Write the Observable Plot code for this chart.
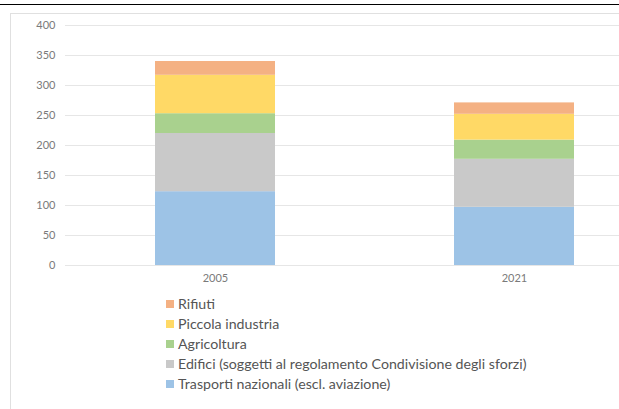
<!DOCTYPE html>
<html>
<head>
<meta charset="utf-8">
<script src="https://cdn.jsdelivr.net/npm/d3@7"></script>
<script src="https://cdn.jsdelivr.net/npm/@observablehq/plot@0.6"></script>
<style>
  html, body { margin: 0; padding: 0; background: #fff; }
  #wrap { position: relative; width: 619px; height: 409px; overflow: hidden; font-family: Lato, "Open Sans", sans-serif; }
  #topline { position: absolute; left: 0; top: 4px; width: 619px; height: 1px; background: #000; }
  #box { position: absolute; left: 10px; top: 13px; width: 700px; height: 500px; border: 1px solid #e0e0e0; box-sizing: border-box; }
  #chart { position: absolute; left: 0; top: 0; }
  #legend { position: absolute; left: 166px; top: 294px; font-size: 14.2px; color: #555; line-height: 20px; }
  .row { display: flex; align-items: center; height: 20px; white-space: nowrap; }
  .sw { width: 8px; height: 8px; margin-right: 4px; flex: none; }
</style>
</head>
<body>
<div id="wrap">
  <div id="topline"></div>
  <div id="box"></div>
  <div id="chart"></div>
  <div id="legend"></div>
</div>
<script>
const years = ["2005", "2021"];
const categories = [
  "Trasporti nazionali (escl. aviazione)",
  "Edifici (soggetti al regolamento Condivisione degli sforzi)",
  "Agricoltura",
  "Piccola industria",
  "Rifiuti"
];
const trasporti = [123, 97];
const edifici = [97, 80];
const agricoltura = [33, 32];
const piccolaIndustria = [64, 43];
const rifiuti = [23, 19];
const colors = ["#9DC3E6", "#C9C9C9", "#A9D18E", "#FFD966", "#F4B183"];
const yTicks = [0, 50, 100, 150, 200, 250, 300, 350, 400];

const series = [trasporti, edifici, agricoltura, piccolaIndustria, rifiuti];
const data = [];
categories.forEach((c, ci) => {
  years.forEach((y, yi) => data.push({year: y, category: c, value: series[ci][yi]}));
});

const chart = Plot.plot({
  width: 619,
  height: 290,
  marginLeft: 65,
  marginRight: 0,
  marginTop: 25,
  marginBottom: 25,
  style: {background: "transparent", fontFamily: "Lato, 'Open Sans', sans-serif", fontSize: "11px", color: "#7a7a7a"},
  x: {domain: years, paddingInner: 0.6, paddingOuter: 0.226, align: 0.665, label: null, tickSize: 0, tickPadding: 9},
  y: {domain: [0, 400], ticks: yTicks, label: null, tickSize: 0, tickPadding: 10},
  color: {domain: categories, range: colors},
  marks: [
    Plot.gridY(yTicks, {stroke: "#e6e6e6", strokeOpacity: 1, strokeWidth: 1}),
    Plot.barY(data, {x: "year", y: "value", fill: "category", order: null}),
    Plot.axisY(yTicks, {tickSize: 0, tickPadding: 10, label: null, fill: "#7a7a7a"}),
    Plot.axisX(years, {tickSize: 0, tickPadding: 9, label: null, fill: "#7a7a7a"})
  ]
});
document.getElementById("chart").appendChild(chart);

const legend = document.getElementById("legend");
for (let i = categories.length - 1; i >= 0; i--) {
  const row = document.createElement("div");
  row.className = "row";
  const sw = document.createElement("span");
  sw.className = "sw";
  sw.style.background = colors[i];
  const t = document.createElement("span");
  t.textContent = categories[i];
  row.appendChild(sw);
  row.appendChild(t);
  legend.appendChild(row);
}
</script>
</body>
</html>
